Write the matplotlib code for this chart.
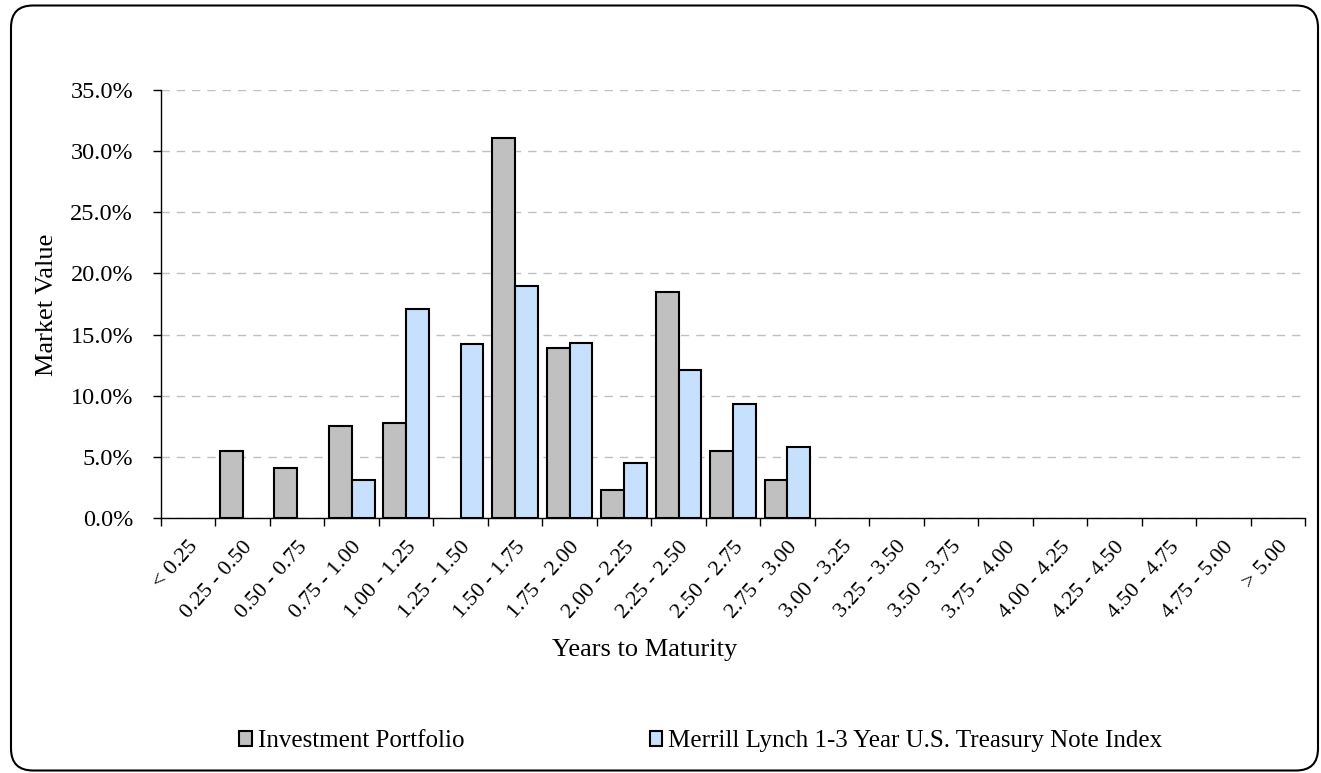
import numpy as np
import matplotlib.pyplot as plt
import matplotlib.transforms as mtransforms
from matplotlib.patches import FancyBboxPatch, Patch
from matplotlib.ticker import FuncFormatter

plt.rcParams['font.family'] = ['Liberation Serif', 'DejaVu Serif']

# maturity buckets and market value weights (%)
buckets = ['< 0.25', '0.25 - 0.50', '0.50 - 0.75', '0.75 - 1.00', '1.00 - 1.25',
           '1.25 - 1.50', '1.50 - 1.75', '1.75 - 2.00', '2.00 - 2.25', '2.25 - 2.50',
           '2.50 - 2.75', '2.75 - 3.00', '3.00 - 3.25', '3.25 - 3.50', '3.50 - 3.75',
           '3.75 - 4.00', '4.00 - 4.25', '4.25 - 4.50', '4.50 - 4.75', '4.75 - 5.00',
           '> 5.00']
portfolio = [0.0, 5.5, 4.1, 7.5, 7.8, 0.0, 31.1, 13.9, 2.3, 18.5, 5.5, 3.1,
             0, 0, 0, 0, 0, 0, 0, 0, 0]
index = [0.0, 0.0, 0.0, 3.1, 17.1, 14.2, 19.0, 14.3, 4.5, 12.1, 9.3, 5.8,
         0, 0, 0, 0, 0, 0, 0, 0, 0]
yticks = [0, 5, 10, 15, 20, 25, 30, 35]

W, H = 1321, 773
fs = 19
fig = plt.figure(figsize=(W / 100, H / 100), dpi=100)
ax = fig.add_axes([161 / W, 1 - 518 / H, (1305 - 161) / W, (518 - 90) / H])

x = np.arange(len(buckets))
bw = 0.42
p = np.array(portfolio)
q = np.array(index)
# empty buckets get no bar at all
ax.bar(x[p > 0] - bw / 2, p[p > 0], bw, color='#c0c0c0', edgecolor='black', linewidth=1.5, zorder=3)
ax.bar(x[q > 0] + bw / 2, q[q > 0], bw, color='#c6e0fd', edgecolor='black', linewidth=1.5, zorder=3)

ax.set_xlim(-0.5, len(buckets) - 0.5)
ax.set_ylim(0, 35)
ax.set_yticks(yticks)
ax.yaxis.set_major_formatter(FuncFormatter(lambda v, pos: f'{v:.1f}%'))
ax.grid(axis='y', color='#c0c0c0', linestyle=(0, (6, 5)), linewidth=1, zorder=0)

# labels at centers, tick marks at bucket boundaries
ax.set_xticks(x)
ax.set_xticklabels(buckets, rotation=48, ha='right', va='top', rotation_mode='anchor')
shift = mtransforms.ScaledTranslation(-6 / 100, 0, fig.dpi_scale_trans)
for lab in ax.get_xticklabels():
    lab.set_transform(lab.get_transform() + shift)
ax.set_xticks(np.arange(len(buckets) + 1) - 0.5, minor=True)
ax.tick_params(axis='x', which='major', length=0, pad=14, labelsize=16)
ax.tick_params(axis='x', which='minor', length=6, width=1, direction='out')
ax.tick_params(axis='y', length=6, width=1, pad=14, labelsize=17.5)

for s in ['top', 'right']:
    ax.spines[s].set_visible(False)
ax.spines['left'].set_linewidth(1)
ax.spines['bottom'].set_linewidth(1)

fig.text(645 / W, 1 - 650 / H, 'Years to Maturity', ha='center', va='center', fontsize=fs)
fig.text(47 / W, 1 - 305 / H, 'Market Value', ha='center', va='center', rotation=90, fontsize=fs)

handles = [Patch(facecolor='#c0c0c0', edgecolor='black', linewidth=1.5),
           Patch(facecolor='#c6e0fd', edgecolor='black', linewidth=1.5)]
fig.legend(handles, ['Investment Portfolio', 'Merrill Lynch 1-3 Year U.S. Treasury Note Index'],
           loc='center', bbox_to_anchor=(701 / W, 1 - 741 / H), ncol=2, frameon=False,
           fontsize=18, handlelength=0.5, handleheight=0.55, handletextpad=0.25,
           columnspacing=7.4)

# rounded outer frame
frame = FancyBboxPatch((11, 2.5), 1307, 765, boxstyle='round,pad=0,rounding_size=22',
                       transform=None, facecolor='none', edgecolor='black', linewidth=1.5)
fig.patches.append(frame)

fig.savefig('out.png', dpi=100)
